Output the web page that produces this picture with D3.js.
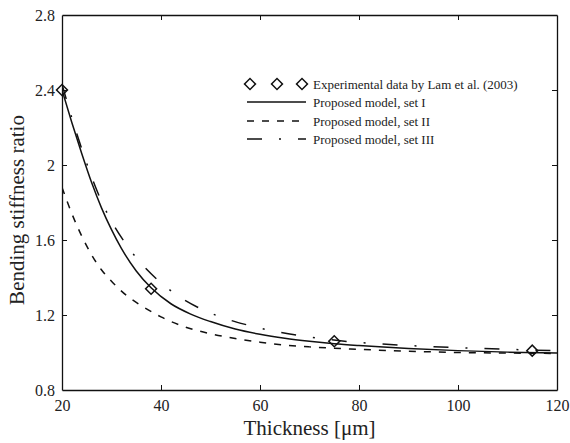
<!DOCTYPE html>
<html>
<head>
<meta charset="utf-8">
<script src="https://cdn.jsdelivr.net/npm/d3@7"></script>
<style>
  body { margin: 0; background: #fff; }
  svg { display: block; font-family: "Liberation Serif", "Times New Roman", serif; }
</style>
</head>
<body>
<svg id="chart" width="570" height="443"></svg>
<script>
// Thickness [um] values for each curve
const setIThickness = [20, 22, 24, 26, 28, 30, 32, 35, 38, 42, 46, 50, 55, 60, 65, 70, 75, 80, 90, 100, 110, 120];
const setIRatio = [2.40, 2.225, 2.06, 1.905, 1.77, 1.655, 1.555, 1.435, 1.345, 1.26, 1.205, 1.165, 1.125, 1.097, 1.076, 1.06, 1.047, 1.037, 1.021, 1.01, 1.002, 0.997];

const setIIThickness = [20, 22, 24, 26, 28, 30, 33, 36, 40, 45, 50, 55, 60, 65, 70, 80, 90, 100, 110, 120];
const setIIRatio = [1.88, 1.74, 1.62, 1.52, 1.44, 1.38, 1.305, 1.25, 1.19, 1.135, 1.10, 1.075, 1.055, 1.04, 1.03, 1.017, 1.007, 1.0, 0.997, 0.995];

const setIIIThickness = [20, 22, 24, 26, 28, 30, 33, 36, 39, 43, 47.5, 52, 57, 63, 68, 73, 78, 84, 90, 100, 110, 120];
const setIIIRatio = [2.43, 2.25, 2.085, 1.935, 1.805, 1.70, 1.575, 1.475, 1.395, 1.31, 1.24, 1.19, 1.15, 1.113, 1.09, 1.072, 1.058, 1.046, 1.037, 1.026, 1.017, 1.009];

const expThickness = [20, 38, 75, 115];
const expRatio = [2.40, 1.34, 1.06, 1.01];

const xTicks = [20, 40, 60, 80, 100, 120];
const yTicks = [0.8, 1.2, 1.6, 2.0, 2.4, 2.8];

const legendLabels = [
  "Experimental data by Lam et al. (2003)",
  "Proposed model, set I",
  "Proposed model, set II",
  "Proposed model, set III"
];

// Chart Dimensions
const margin = { left: 62, right: 13, top: 15, bottom: 53 };
const width = 570, height = 443;

const svg = d3.select("#chart");

// Create Scales
const x = d3.scaleLinear().domain([20, 120]).range([margin.left, width - margin.right]);
const y = d3.scaleLinear().domain([0.8, 2.8]).range([height - margin.bottom, margin.top]);

// Clip for curves
svg.append("clipPath").attr("id", "plot-clip")
  .append("rect")
  .attr("x", x(20)).attr("y", y(2.8))
  .attr("width", x(120) - x(20)).attr("height", y(0.8) - y(2.8));

// Axes (inward ticks on all sides)
const tickLen = 5;
const fmtY = (d) => (d === 2 ? "2" : d3.format(".1f")(d));

svg.append("g")
  .attr("transform", `translate(0,${y(0.8)})`)
  .call(d3.axisBottom(x).tickValues(xTicks).tickSizeInner(-tickLen).tickSizeOuter(0).tickPadding(10));

svg.append("g")
  .attr("transform", `translate(0,${y(2.8)})`)
  .call(d3.axisTop(x).tickValues(xTicks).tickSizeInner(-tickLen).tickSizeOuter(0).tickFormat(""));

svg.append("g")
  .attr("transform", `translate(${x(20)},0)`)
  .call(d3.axisLeft(y).tickValues(yTicks).tickFormat(fmtY).tickSizeInner(-tickLen).tickSizeOuter(0).tickPadding(7));

svg.append("g")
  .attr("transform", `translate(${x(120)},0)`)
  .call(d3.axisRight(y).tickValues(yTicks).tickSizeInner(-tickLen).tickSizeOuter(0).tickFormat(""));

// Axis styling
svg.selectAll("g").attr("font-family", null).attr("font-size", null);
svg.selectAll(".domain").attr("stroke", "#111").attr("stroke-width", 1.3);
svg.selectAll(".tick line").attr("stroke", "#111").attr("stroke-width", 1);
svg.selectAll(".tick text")
  .style("font-family", "'Liberation Serif', serif")
  .attr("font-size", 16)
  .attr("fill", "#222");
// remove tick lines overlapping the frame at ends
svg.selectAll(".tick").filter((d) => d === 20 || d === 120 || d === 0.8 || d === 2.8).select("line").remove();

// Axis Titles
svg.append("text")
  .attr("x", (x(20) + x(120)) / 2)
  .attr("y", 435)
  .attr("text-anchor", "middle")
  .attr("font-size", 21)
  .attr("fill", "#222")
  .text("Thickness [μm]");

svg.append("text")
  .attr("transform", `translate(24,210) rotate(-90)`)
  .attr("text-anchor", "middle")
  .attr("font-size", 21)
  .attr("fill", "#222")
  .text("Bending stiffness ratio");

// Curves
const line = d3.line().x((d) => x(d[0])).y((d) => y(d[1])).curve(d3.curveMonotoneX);
const series = [
  { xs: setIThickness, ys: setIRatio, dash: null },
  { xs: setIIThickness, ys: setIIRatio, dash: "7,8" },
  { xs: setIIIThickness, ys: setIIIRatio, dash: "15,17,2,17" }
];

const curves = svg.append("g").attr("clip-path", "url(#plot-clip)");
series.forEach((s) => {
  curves.append("path")
    .datum(s.xs.map((v, i) => [v, s.ys[i]]))
    .attr("d", line)
    .attr("fill", "none")
    .attr("stroke", "#111")
    .attr("stroke-width", 1.5)
    .attr("stroke-dasharray", s.dash);
});

// Experimental markers
const diamond = d3.symbol().type(d3.symbolSquare).size(60);
svg.append("g").selectAll("path")
  .data(expThickness.map((v, i) => [v, expRatio[i]]))
  .join("path")
  .attr("d", diamond)
  .attr("transform", (d) => `translate(${x(d[0])},${y(d[1])}) rotate(45)`)
  .attr("fill", "none")
  .attr("stroke", "#111")
  .attr("stroke-width", 1.5);

// Legend
const legend = svg.append("g");
const rowY = [84, 102, 121, 139];
const sampleX0 = 247, sampleX1 = 306, textX = 313;

legend.selectAll("path.marker")
  .data([250, 277, 302])
  .join("path")
  .attr("class", "marker")
  .attr("d", diamond)
  .attr("transform", (d) => `translate(${d},${rowY[0]}) rotate(45)`)
  .attr("fill", "none")
  .attr("stroke", "#111")
  .attr("stroke-width", 1.5);

series.forEach((s, i) => {
  legend.append("line")
    .attr("x1", sampleX0).attr("x2", sampleX1)
    .attr("y1", rowY[i + 1]).attr("y2", rowY[i + 1])
    .attr("stroke", "#111")
    .attr("stroke-width", 1.5)
    .attr("stroke-dasharray", s.dash);
});

legend.selectAll("text")
  .data(legendLabels)
  .join("text")
  .attr("x", textX)
  .attr("y", (_, i) => rowY[i] + 4.5)
  .attr("font-size", 13)
  .attr("fill", "#222")
  .text((d) => d);
</script>
</body>
</html>
